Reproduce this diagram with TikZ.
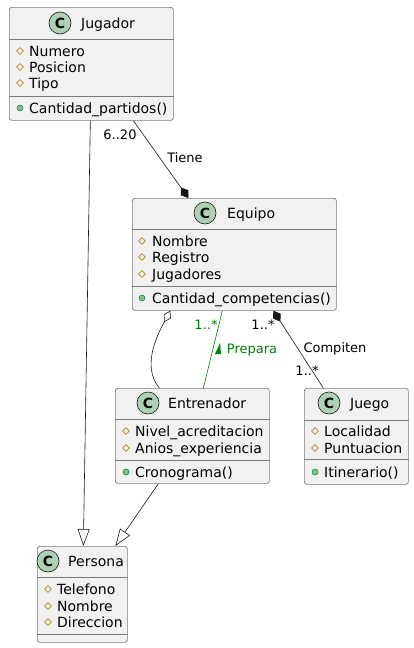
\documentclass[tikz,border=0pt]{standalone}
\usepackage{fontspec}
\setmainfont{DejaVu Sans}
\usetikzlibrary{arrows.meta,shapes.geometric}
\definecolor{boxfill}{HTML}{F1F1F1}
\definecolor{edge}{HTML}{181818}
\definecolor{boxedge}{HTML}{7A7A7A}
\definecolor{badgefill}{HTML}{ADD1B2}
\definecolor{protcol}{HTML}{B38D22}
\definecolor{pubfill}{HTML}{84BE84}
\definecolor{pubedge}{HTML}{038048}
\definecolor{prepgreen}{HTML}{008000}

\begin{document}
\begin{tikzpicture}[x=1pt,y=-1pt,
      cls/.style={draw=boxedge, fill=boxfill, rounded corners=2.5pt, line width=0.7pt,
        inner sep=0pt, anchor=north west},
      badge/.style={circle, draw=edge, fill=badgefill, line width=0.6pt, minimum size=22pt,
        inner sep=0pt, font=\fontsize{14}{16}\selectfont\bfseries},
      ttl/.style={anchor=west, inner sep=0pt, text height=10pt, text depth=3pt, yshift=-1.5pt,
        font=\fontsize{14}{16}\selectfont},
      attr/.style={ttl},
      prot/.style={diamond, draw=protcol, line width=0.6pt, minimum width=7pt,
        minimum height=7pt, inner sep=0pt},
      pub/.style={circle, draw=pubedge, fill=pubfill, line width=0.5pt, minimum size=6pt,
        inner sep=0pt},
      sep/.style={draw=boxedge, line width=0.7pt},
      rel/.style={draw=edge, line width=0.6pt},
      prep/.style={draw=prepgreen, line width=0.6pt},
      lbl/.style={font=\fontsize{13}{15}\selectfont, inner sep=0pt, text height=9.5pt,
        text depth=3pt, yshift=-1.5pt}
    ]
    \useasboundingbox (0,0) rectangle (414,648);

    % Jugador
    \node[cls, minimum width=164, minimum height=113] (jug) at (9,7) {};
    \node[badge] (jug-c) at (60,23) {C};
    \node[ttl] (jug-t) at (81,23) {Jugador};
    \draw[sep] (jug.west |- 0,39) -- (jug.east |- 0,39);
    \foreach \t/\y [count=\i] in {Numero/51, Posicion/67, Tipo/83} {
      \node[prot] (jug-i\i) at (20,\y) {};
      \node[attr] (jug-a\i) at (29,\y) {\t};
    }
    \draw[sep] (jug.west |- 0,96) -- (jug.east |- 0,96);
    \node[pub] (jug-p1) at (20,108) {};
    \node[attr] (jug-m1) at (29,108) {Cantidad\_partidos()};

    % Equipo
    \node[cls, minimum width=204, minimum height=112] (equ) at (132,198) {};
    \node[badge] (equ-c) at (205,213) {C};
    \node[ttl] (equ-t) at (227,213) {Equipo};
    \draw[sep] (equ.west |- 0,229) -- (equ.east |- 0,229);
    \foreach \t/\y [count=\i] in {Nombre/241, Registro/257, Jugadores/274} {
      \node[prot] (equ-i\i) at (142,\y) {};
      \node[attr] (equ-a\i) at (152,\y) {\t};
    }
    \draw[sep] (equ.west |- 0,286) -- (equ.east |- 0,286);
    \node[pub] (equ-p1) at (142,298) {};
    \node[attr] (equ-m1) at (152,298) {Cantidad\_competencias()};

    % Entrenador
    \node[cls, minimum width=154, minimum height=95] (ent) at (115,388) {};
    \node[badge] (ent-c) at (148,403) {C};
    \node[ttl] (ent-t) at (168,403) {Entrenador};
    \draw[sep] (ent.west |- 0,419) -- (ent.east |- 0,419);
    \foreach \t/\y [count=\i] in {Nivel\_acreditacion/431, Anios\_experiencia/448} {
      \node[prot] (ent-i\i) at (126,\y) {};
      \node[attr] (ent-a\i) at (135,\y) {\t};
    }
    \draw[sep] (ent.west |- 0,460) -- (ent.east |- 0,460);
    \node[pub] (ent-p1) at (126,472) {};
    \node[attr] (ent-m1) at (135,472) {Cronograma()};

    % Juego
    \node[cls, minimum width=104, minimum height=96] (jue) at (304,388) {};
    \node[badge] (jue-c) at (329,403) {C};
    \node[ttl] (jue-t) at (350,403) {Juego};
    \draw[sep] (jue.west |- 0,420) -- (jue.east |- 0,420);
    \foreach \t/\y [count=\i] in {Localidad/431, Puntuacion/448} {
      \node[prot] (jue-i\i) at (315,\y) {};
      \node[attr] (jue-a\i) at (324,\y) {\t};
    }
    \draw[sep] (jue.west |- 0,459) -- (jue.east |- 0,459);
    \node[pub] (jue-p1) at (315,472) {};
    \node[attr] (jue-m1) at (324,472) {Itinerario()};

    % Persona
    \node[cls, minimum width=90, minimum height=96] (per) at (37,546) {};
    \node[badge] (per-c) at (48,561) {C};
    \node[ttl] (per-t) at (68,561) {Persona};
    \draw[sep] (per.west |- 0,577) -- (per.east |- 0,577);
    \foreach \t/\y [count=\i] in {Telefono/589, Nombre/606, Direccion/622} {
      \node[prot] (per-i\i) at (48,\y) {};
      \node[attr] (per-a\i) at (57,\y) {\t};
    }
    \draw[sep] (per.west |- 0,634) -- (per.east |- 0,634);

    % relaciones
    \draw[rel, -{Diamond[length=13pt,width=9pt]}] ([xshift=42]jug.south) -- ([xshift=-46]equ.north);
    \draw[rel, -{Triangle[open,length=17pt,width=12pt]}] ([xshift=-1]jug.south) -- ([xshift=1]per.north);
    \draw[rel, -{Triangle[open,length=17pt,width=12pt]}] ([xshift=-34]ent.south) -- ([xshift=33]per.north);
    \draw[rel, {Diamond[open,length=13pt,width=8pt]}-] ([xshift=-64]equ.south)
      .. controls (160,330) and (140,365) .. ([xshift=-33]ent.north);
    \draw[prep] ([xshift=-12]equ.south) -- ([xshift=11]ent.north);
    \draw[rel, {Diamond[length=13pt,width=9pt]}-] ([xshift=39]equ.south) -- ([xshift=-33]jue.north);

    \node[lbl] (l-tmul) at (120,135) {6..20};
    \node[lbl] (l-tiene) at (185,158) {Tiene};
    \node[lbl, text=prepgreen] (l-pmul) at (206,325) {1..*};
    \node[lbl, text=prepgreen] (l-prep) at (252,349) {Prepara};
    \fill[prepgreen] (215,354) -- (220,343) -- (221,354) -- cycle;
    \node[lbl] (l-cmul1) at (263,325) {1..*};
    \node[lbl] (l-comp) at (335,348) {Compiten};
    \node[lbl] (l-cmul2) at (307,371) {1..*};
  \end{tikzpicture}
\end{document}
